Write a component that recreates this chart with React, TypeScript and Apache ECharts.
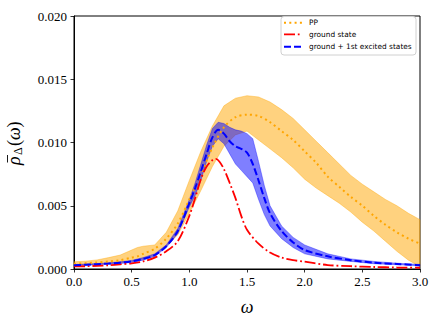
import React, { useEffect, useRef } from 'react';
import * as echarts from 'echarts';

// PP curve with its band
const ppOmega = [0, 0.1, 0.2, 0.3, 0.4, 0.5, 0.55, 0.6, 0.7, 0.8, 0.9, 1.0, 1.1, 1.2, 1.3, 1.4, 1.5, 1.6, 1.7, 1.8, 1.9, 2.0, 2.1, 2.2, 2.3, 2.4, 2.5, 2.6, 2.7, 2.8, 2.9, 3.0];
const ppLine = [0.0004, 0.00046, 0.00052, 0.0006, 0.0007, 0.0009, 0.001, 0.0012, 0.0016, 0.0024, 0.0036, 0.0055, 0.0075, 0.0096, 0.0112, 0.012, 0.0122, 0.0121, 0.0116, 0.0109, 0.0102, 0.0093, 0.0084, 0.0073, 0.0065, 0.0057, 0.005, 0.0042, 0.0035, 0.0029, 0.0024, 0.002];
const ppUpper = [0.00057, 0.00062, 0.00072, 0.0009, 0.0011, 0.0015, 0.0017, 0.0018, 0.0019, 0.0029, 0.0046, 0.007, 0.0093, 0.0113, 0.0129, 0.0135, 0.0137, 0.0136, 0.0132, 0.0126, 0.0119, 0.011, 0.0101, 0.0092, 0.0083, 0.0074, 0.0067, 0.0061, 0.0055, 0.005, 0.0044, 0.0039];
const ppLower = [0.0003, 0.00033, 0.00037, 0.00043, 0.0005, 0.0006, 0.0007, 0.0008, 0.0011, 0.0018, 0.0027, 0.0044, 0.0062, 0.0081, 0.0097, 0.0106, 0.0109, 0.0102, 0.0095, 0.0088, 0.008, 0.0071, 0.0064, 0.0058, 0.0052, 0.0045, 0.0037, 0.003, 0.0022, 0.0014, 0.0007, 0.0002];

// ground + 1st excited states with its band
const exOmega = [0, 0.1, 0.2, 0.3, 0.4, 0.5, 0.6, 0.7, 0.8, 0.9, 1.0, 1.05, 1.1, 1.15, 1.2, 1.25, 1.3, 1.35, 1.4, 1.45, 1.5, 1.55, 1.6, 1.65, 1.7, 1.8, 1.9, 2.0, 2.2, 2.4, 2.6, 2.8, 3.0];
const exLine = [0.0003, 0.00034, 0.00038, 0.00043, 0.0005, 0.0006, 0.0008, 0.0011, 0.0018, 0.003, 0.0052, 0.0064, 0.0077, 0.0091, 0.0104, 0.011, 0.0107, 0.0101, 0.0097, 0.0095, 0.0092, 0.0083, 0.007, 0.0056, 0.0044, 0.003, 0.0021, 0.0015, 0.001, 0.0007, 0.0005, 0.0004, 0.0003];
const exUpper = [0.00035, 0.00039, 0.00043, 0.00049, 0.00057, 0.00068, 0.0009, 0.0012, 0.0019, 0.0032, 0.0055, 0.0068, 0.0083, 0.0098, 0.0111, 0.0116, 0.0115, 0.0112, 0.011, 0.0109, 0.0107, 0.0103, 0.0085, 0.0066, 0.005, 0.0034, 0.0025, 0.0019, 0.0012, 0.0008, 0.0006, 0.00046, 0.00036];
const exLower = [0.00025, 0.00029, 0.00033, 0.00037, 0.00043, 0.00052, 0.0007, 0.001, 0.0017, 0.0028, 0.0049, 0.0058, 0.007, 0.0085, 0.0097, 0.0103, 0.0099, 0.0091, 0.0083, 0.0078, 0.0073, 0.0068, 0.0055, 0.0043, 0.0034, 0.0024, 0.0017, 0.0012, 0.0008, 0.0006, 0.00042, 0.00034, 0.00025];

// ground state
const gsOmega = [0, 0.1, 0.2, 0.3, 0.4, 0.5, 0.6, 0.7, 0.8, 0.9, 1.0, 1.05, 1.1, 1.15, 1.2, 1.23, 1.26, 1.3, 1.35, 1.4, 1.45, 1.5, 1.6, 1.7, 1.8, 1.9, 2.0, 2.2, 2.4, 2.6, 2.8, 3.0];
const gsLine = [0.0002, 0.00022, 0.00025, 0.0003, 0.00037, 0.00045, 0.0006, 0.0009, 0.0014, 0.0022, 0.0042, 0.0056, 0.0071, 0.0081, 0.0086, 0.0087, 0.0085, 0.0079, 0.0068, 0.0056, 0.0042, 0.0031, 0.002, 0.0013, 0.0009, 0.0007, 0.00058, 0.00031, 0.00022, 0.00016, 0.00012, 0.0001];

const legendNames = ['PP', 'ground state', 'ground + 1st excited states'];

const SERIF = "'Liberation Serif', 'DejaVu Serif', serif";
const SANS = "'DejaVu Sans', sans-serif";

const ORANGE = '#ffa500';
const RED = '#ff0000';
const BLUE = '#0000ff';
const DOT = [2, 3.3];
const DASHDOT = [11, 2.8, 1.8, 2.8];
const DASH = [7, 3];

const pair = (xs: number[], ys: number[]) => xs.map((x, i) => [x, ys[i]]);

function bandSeries(xs: number[], lo: number[], up: number[], fill: string, edge: string, z: number) {
  return {
    type: 'custom',
    silent: true,
    z,
    data: xs.map((x, i) => [x, lo[i], up[i]]),
    encode: { x: 0, y: [1, 2] },
    renderItem: (params: any, api: any) => {
      if (params.dataIndex !== 0) return null;
      const pts: number[][] = [];
      for (let i = 0; i < xs.length; i++) pts.push(api.coord([xs[i], up[i]]));
      for (let i = xs.length - 1; i >= 0; i--) pts.push(api.coord([xs[i], lo[i]]));
      return {
        type: 'polygon',
        shape: { points: pts },
        style: { fill, stroke: edge, lineWidth: 0.7 },
      };
    },
  };
}

export default function App() {
  const ref = useRef<HTMLDivElement>(null);
  useEffect(() => {
    const chart = echarts.init(ref.current!, null, { renderer: 'svg' });

    const legendX = 284;
    const legendYs = [22.7, 34.3, 46.7];
    const legendStyles = [
      { color: ORANGE, dash: DOT, w: 2 },
      { color: RED, dash: DASHDOT, w: 1.8 },
      { color: BLUE, dash: DASH, w: 2 },
    ];

    const legendGraphics: any[] = [
      {
        type: 'rect',
        shape: { x: 281, y: 16.5, width: 135, height: 38.5, r: 3 },
        style: { fill: 'rgba(255,255,255,0.85)', stroke: '#d0d0d0', lineWidth: 1 },
        z: 100,
      },
    ];
    legendNames.forEach((n, i) => {
      const s = legendStyles[i];
      legendGraphics.push({
        type: 'line',
        shape: { x1: legendX, y1: legendYs[i], x2: legendX + 18, y2: legendYs[i] },
        style: { stroke: s.color, lineWidth: s.w, lineDash: s.dash },
        z: 101,
      });
      legendGraphics.push({
        type: 'text',
        x: 309,
        y: legendYs[i],
        style: { text: n, fontFamily: SANS, fontSize: 7.4, fill: '#000', verticalAlign: 'middle' },
        z: 101,
      });
    });

    const t = (text: string, x: number, y: number, size: number, italic: boolean) => ({
      type: 'text', x, y,
      style: { text, fontFamily: SERIF, fontStyle: italic ? 'italic' : 'normal', fontSize: size, fill: '#000', verticalAlign: 'middle', align: 'left' },
    });
    const yName = {
      type: 'group',
      x: 14,
      y: 143,
      rotation: Math.PI / 2,
      children: [
        t('ρ', -22, 0, 18, true),
        { type: 'line', shape: { x1: -19.5, y1: -6.5, x2: -12, y2: -6.5 }, style: { stroke: '#000', lineWidth: 0.9 } },
        t('Δ', -12, 4, 12, false),
        t('(', -3, 0, 18, false),
        t('ω', 3, 0, 18, true),
        t(')', 15.5, 0, 18, false),
      ],
    };

    const option: any = {
      animation: false,
      backgroundColor: '#fff',
      grid: {
        left: 74, right: 16, top: 16, bottom: 53,
        show: true, borderColor: '#000', borderWidth: 1, backgroundColor: 'transparent',
      },
      xAxis: {
        type: 'value',
        min: 0, max: 3, interval: 0.5,
        name: 'ω',
        nameLocation: 'middle',
        nameGap: 29,
        nameTextStyle: { fontFamily: SERIF, fontStyle: 'italic', fontSize: 18, color: '#000' },
        axisLine: { show: true, lineStyle: { color: '#000', width: 1 } },
        axisTick: { show: true, inside: false, length: 3.5, lineStyle: { color: '#000', width: 0.8 } },
        axisLabel: { margin: 6, fontFamily: SERIF, fontSize: 13, color: '#000', formatter: (v: number) => v.toFixed(1) },
        splitLine: { show: false },
      },
      yAxis: {
        type: 'value',
        min: 0, max: 0.02, interval: 0.005,
        axisLine: { show: true, lineStyle: { color: '#000', width: 1 } },
        axisTick: { show: true, inside: false, length: 3.5, lineStyle: { color: '#000', width: 0.8 } },
        axisLabel: { margin: 7, fontFamily: SERIF, fontSize: 13, color: '#000', formatter: (v: number) => v.toFixed(3) },
        splitLine: { show: false },
      },
      graphic: [...legendGraphics, yName],
      series: [
        bandSeries(ppOmega, ppLower, ppUpper, 'rgba(255,165,0,0.5)', 'rgba(255,165,0,0.55)', 1),
        bandSeries(exOmega, exLower, exUpper, 'rgba(0,0,255,0.5)', 'rgba(0,0,255,0.5)', 2),
        {
          name: 'PP', type: 'line', data: pair(ppOmega, ppLine), symbol: 'none', smooth: 0.3,
          lineStyle: { color: ORANGE, width: 2, type: DOT }, itemStyle: { color: ORANGE }, z: 3,
        },
        {
          name: 'ground state', type: 'line', data: pair(gsOmega, gsLine), symbol: 'none', smooth: 0.3,
          lineStyle: { color: RED, width: 1.8, type: DASHDOT }, itemStyle: { color: RED }, z: 3,
        },
        {
          name: 'ground + 1st excited states', type: 'line', data: pair(exOmega, exLine), symbol: 'none', smooth: 0.3,
          lineStyle: { color: BLUE, width: 2, type: DASH }, itemStyle: { color: BLUE }, z: 4,
        },
      ],
    };
    chart.setOption(option);
    return () => chart.dispose();
  }, []);
  return <div ref={ref} style={{ position: 'absolute', left: 0, top: 0, width: 436, height: 322 }} />;
}
